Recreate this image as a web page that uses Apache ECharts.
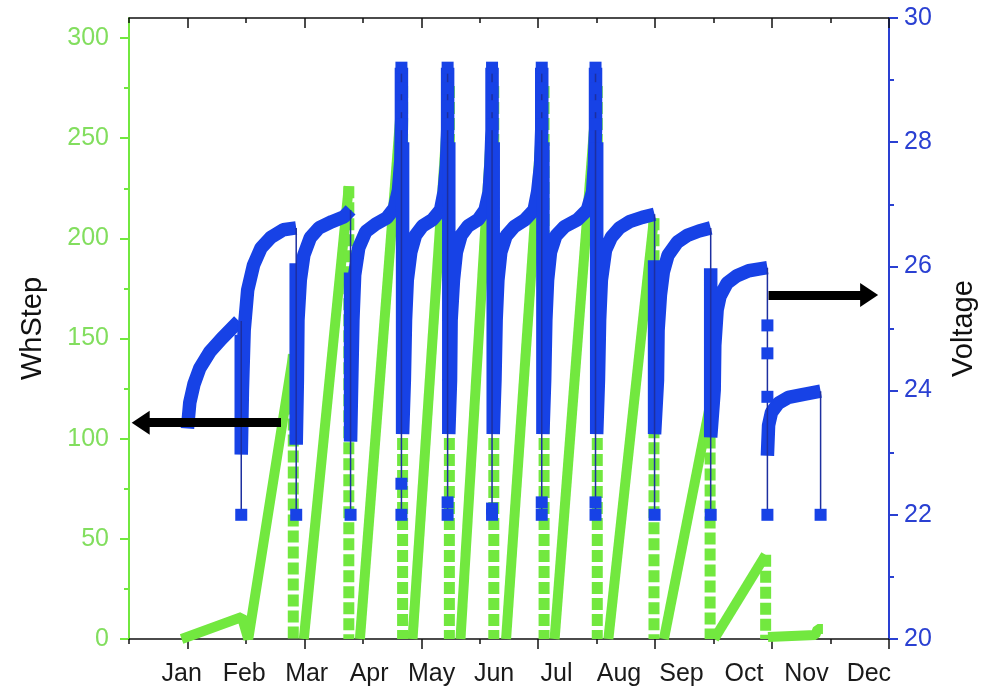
<!DOCTYPE html>
<html>
<head>
<meta charset="utf-8">
<script src="https://cdn.jsdelivr.net/npm/echarts@6/dist/echarts.min.js"></script>
<style>
  html, body { margin: 0; background: #fff; }
  #chart { width: 986px; height: 697px; }
</style>
</head>
<body>
<div id="chart"></div>
<script>
// month labels and tick values
const months = ['Jan', 'Feb', 'Mar', 'Apr', 'May', 'Jun', 'Jul', 'Aug', 'Sep', 'Oct', 'Nov', 'Dec'];
const whTicks = [0, 50, 100, 150, 200, 250, 300];
const whMinor = [25, 75, 125, 175, 225, 275];
const xLong = [1, 3, 5, 7, 9, 11, 13];
const xShort = [0, 2, 4, 6, 8, 10, 12];

// WhStep (left axis) - charge ramps, x in tick units
const rampX = [
  [0.90, 1.93, 2.04, 2.81],
  [2.99, 3.76],
  [3.95, 4.68],
  [4.85, 5.48],
  [5.67, 6.24],
  [6.45, 7.10],
  [7.28, 8.01],
  [8.20, 8.98],
  [9.15, 9.94],
  [10.01, 10.89],
  [10.93, 11.74, 11.78, 11.87]
];
const rampWh = [
  [0, 11, 0, 142],
  [0, 226],
  [0, 276],
  [0, 276],
  [0, 276],
  [0, 276],
  [0, 276],
  [0, 210],
  [0, 117],
  [0, 42],
  [1, 2, 5, 5]
];
// WhStep resets (dashed drops back to 0)
const stepX = [2.81, 3.76, 4.68, 5.48, 6.24, 7.10, 8.01, 8.98, 9.94, 10.89];
const stepTop = [142, 226, 276, 276, 276, 276, 276, 210, 117, 42];

// Voltage (right axis) - one curve per cycle
const cycX = [
  [1.00, 1.04, 1.11, 1.21, 1.38, 1.58, 1.88],
  [1.92, 1.92, 1.94, 1.97, 2.03, 2.13, 2.26, 2.43, 2.64, 2.86],
  [2.86, 2.86, 2.88, 2.89, 2.93, 2.99, 3.10, 3.25, 3.47, 3.68, 3.79],
  [3.79, 3.79, 3.81, 3.83, 3.86, 3.93, 4.05, 4.22, 4.41, 4.54, 4.61, 4.65, 4.66, 4.66],
  [4.68, 4.68, 4.71, 4.73, 4.76, 4.82, 4.90, 5.02, 5.19, 5.33, 5.39, 5.43, 5.45, 5.45],
  [5.47, 5.47, 5.50, 5.51, 5.55, 5.60, 5.68, 5.80, 5.97, 6.09, 6.16, 6.19, 6.21, 6.21],
  [6.23, 6.23, 6.26, 6.28, 6.31, 6.36, 6.45, 6.59, 6.77, 6.93, 6.99, 7.04, 7.06, 7.06],
  [7.08, 7.08, 7.11, 7.13, 7.16, 7.21, 7.30, 7.45, 7.67, 7.84, 7.93, 7.96, 7.98, 7.98],
  [8.00, 8.00, 8.03, 8.05, 8.08, 8.15, 8.25, 8.39, 8.56, 8.78, 8.99],
  [8.99, 8.99, 9.04, 9.05, 9.09, 9.14, 9.22, 9.38, 9.55, 9.75, 9.95],
  [9.95, 9.95, 10.01, 10.02, 10.06, 10.11, 10.23, 10.40, 10.60, 10.79, 10.92],
  [10.92, 10.94, 10.99, 11.11, 11.28, 11.54, 11.83]
];
const cycV = [
  [23.39, 23.81, 24.10, 24.36, 24.62, 24.83, 25.12],
  [24.90, 22.97, 24.01, 24.97, 25.62, 26.02, 26.30, 26.47, 26.59, 26.62],
  [26.05, 23.13, 24.17, 25.13, 25.78, 26.18, 26.46, 26.62, 26.72, 26.80, 26.91],
  [25.90, 23.18, 24.17, 25.13, 25.86, 26.30, 26.56, 26.68, 26.78, 26.94, 27.23, 27.71, 28.36, 29.20],
  [28.00, 23.30, 24.17, 25.13, 25.78, 26.23, 26.50, 26.65, 26.75, 26.91, 27.20, 27.63, 28.20, 29.20],
  [28.00, 23.30, 24.17, 25.13, 25.78, 26.23, 26.50, 26.65, 26.75, 26.91, 27.20, 27.63, 28.20, 29.20],
  [28.00, 23.30, 24.17, 25.13, 25.78, 26.23, 26.49, 26.64, 26.75, 26.91, 27.20, 27.63, 28.20, 29.20],
  [28.00, 23.30, 24.17, 25.13, 25.78, 26.23, 26.49, 26.64, 26.75, 26.91, 27.20, 27.63, 28.20, 29.20],
  [28.00, 23.30, 24.17, 25.13, 25.78, 26.26, 26.47, 26.62, 26.72, 26.79, 26.84],
  [26.10, 23.30, 24.17, 24.97, 25.54, 25.91, 26.18, 26.39, 26.50, 26.57, 26.62],
  [25.97, 23.25, 24.01, 24.73, 25.30, 25.52, 25.73, 25.85, 25.93, 25.96, 25.98],
  [22.95, 23.44, 23.65, 23.80, 23.89, 23.94, 23.99]
];
// voltage drops between cycles (thin line with square markers)
const dropX = [1.92, 2.86, 3.79, 4.66, 5.45, 6.21, 7.06, 7.98, 8.99, 9.95, 10.92, 11.83];
const dropTop = [25.12, 26.62, 26.91, 29.20, 29.20, 29.20, 29.20, 29.20, 26.84, 26.62, 25.98, 23.99];
const dropMarks = [
  [22.0],
  [22.0],
  [22.0],
  [29.2, 28.87, 28.58, 28.29, 22.5, 22.0],
  [29.2, 28.87, 28.58, 28.29, 22.2, 22.0],
  [29.2, 28.87, 28.58, 28.29, 22.1, 22.0],
  [29.2, 28.87, 28.58, 28.29, 22.2, 22.0],
  [29.2, 28.87, 28.58, 28.29, 22.2, 22.0],
  [22.0],
  [22.0],
  [25.05, 24.6, 23.9, 22.0],
  [22.0]
];

// annotation arrows
const arrowLeft = [[2.60, 108], [0.20, 108]];      // WhStep axis
const arrowRight = [[10.94, 25.54], [12.66, 25.54]]; // Voltage axis

const green = '#72E83F';
const greenText = '#82DE5E';
const blue = '#1742E6';
const blueAxis = '#2A40D2';
const font = 'Liberation Sans';

const series = [];
rampX.forEach((xs, i) => {
  series.push({
    type: 'line', xAxisIndex: 0, yAxisIndex: 0, z: 2, symbol: 'none', silent: true,
    lineStyle: { color: green, width: 10 },
    data: xs.map((x, j) => [x, rampWh[i][j]])
  });
});
stepX.forEach((x, i) => {
  series.push({
    type: 'line', xAxisIndex: 0, yAxisIndex: 0, z: 2, symbol: 'none', silent: true,
    lineStyle: { color: green, width: 11, type: [12, 4] },
    data: [[x, stepTop[i]], [x, 0]]
  });
});
cycX.forEach((xs, i) => {
  series.push({
    type: 'line', xAxisIndex: 0, yAxisIndex: 1, z: 3, symbol: 'none', silent: true,
    lineStyle: { color: blue, width: 13.5 },
    data: xs.map((x, j) => [x, cycV[i][j]])
  });
});
dropX.forEach((x, i) => {
  series.push({
    type: 'line', xAxisIndex: 0, yAxisIndex: 1, z: 4, silent: true,
    symbol: 'rect', symbolSize: 12,
    itemStyle: { color: blue },
    lineStyle: { color: '#1d2fa0', width: 1.5 },
    data: [{ value: [x, dropTop[i]], symbol: 'none' }].concat(dropMarks[i].map(v => [x, v]))
  });
});
function arrow(pts, yIdx) {
  return {
    type: 'line', xAxisIndex: 0, yAxisIndex: yIdx, z: 10, data: [],
    markLine: {
      silent: true, animation: false,
      symbol: ['none', 'triangle'], symbolSize: [24, 18],
      label: { show: false },
      lineStyle: { color: '#000', width: 9, type: 'solid' },
      data: [[{ coord: pts[0] }, { coord: pts[1] }]]
    }
  };
}
series.push(arrow(arrowLeft, 0));
series.push(arrow(arrowRight, 1));

const tickAxis = (pos, values, len, showLine, inside) => ({
  type: 'value', position: pos, min: 0, max: 13,
  axisLine: { show: showLine, onZero: false, lineStyle: { color: '#111', width: 1.5 } },
  axisTick: { show: true, customValues: values, length: len, inside: inside, lineStyle: { color: '#111', width: 1.5 } },
  axisLabel: { show: false },
  splitLine: { show: false }
});

const option = {
  animation: false,
  backgroundColor: '#fff',
  grid: { left: 129, right: 93, top: 18, bottom: 58 },
  xAxis: [
    tickAxis('bottom', xLong, 10, true, false),
    tickAxis('bottom', xShort, 5, false, false),
    tickAxis('top', xLong, 10, true, true),
    tickAxis('top', xShort, 5, false, true),
    {
      type: 'value', position: 'bottom', min: -0.844, max: 11.322,
      axisLine: { show: false }, axisTick: { show: false }, splitLine: { show: false },
      axisLabel: {
        customValues: months.map((m, i) => i),
        formatter: v => months[Math.round(v)],
        fontFamily: font, fontSize: 25, color: '#1a1a1a', margin: 23
      }
    }
  ],
  yAxis: [
    {
      type: 'value', position: 'left', min: 0, max: 310,
      name: 'WhStep', nameLocation: 'middle', nameRotate: 90, nameGap: 82,
      nameTextStyle: { fontFamily: font, fontSize: 29, color: '#111' },
      axisLine: { show: true, onZero: false, lineStyle: { color: green, width: 2 } },
      axisTick: { show: true, customValues: whTicks, length: 9, lineStyle: { color: green, width: 2 } },
      axisLabel: { customValues: whTicks, fontFamily: font, fontSize: 25, color: greenText, margin: 20 },
      splitLine: { show: false }
    },
    {
      type: 'value', position: 'right', min: 20, max: 30, interval: 2,
      name: 'Voltage', nameLocation: 'middle', nameRotate: 90, nameGap: 60,
      nameTextStyle: { fontFamily: font, fontSize: 29, color: '#111' },
      axisLine: { show: true, onZero: false, lineStyle: { color: blueAxis, width: 2 } },
      axisTick: { show: true, length: 9, lineStyle: { color: blueAxis, width: 2 } },
      minorTick: { show: true, splitNumber: 2, length: 5, lineStyle: { color: blueAxis, width: 2 } },
      axisLabel: { fontFamily: font, fontSize: 25, color: blueAxis, margin: 15 },
      splitLine: { show: false }, minorSplitLine: { show: false }
    },
    {
      type: 'value', position: 'left', min: 0, max: 310,
      axisLine: { show: false },
      axisTick: { show: true, customValues: whMinor, length: 5, lineStyle: { color: green, width: 2 } },
      axisLabel: { show: false },
      splitLine: { show: false }
    }
  ],
  series: series
};

const chart = echarts.init(document.getElementById('chart'));
chart.setOption(option);
</script>
</body>
</html>
